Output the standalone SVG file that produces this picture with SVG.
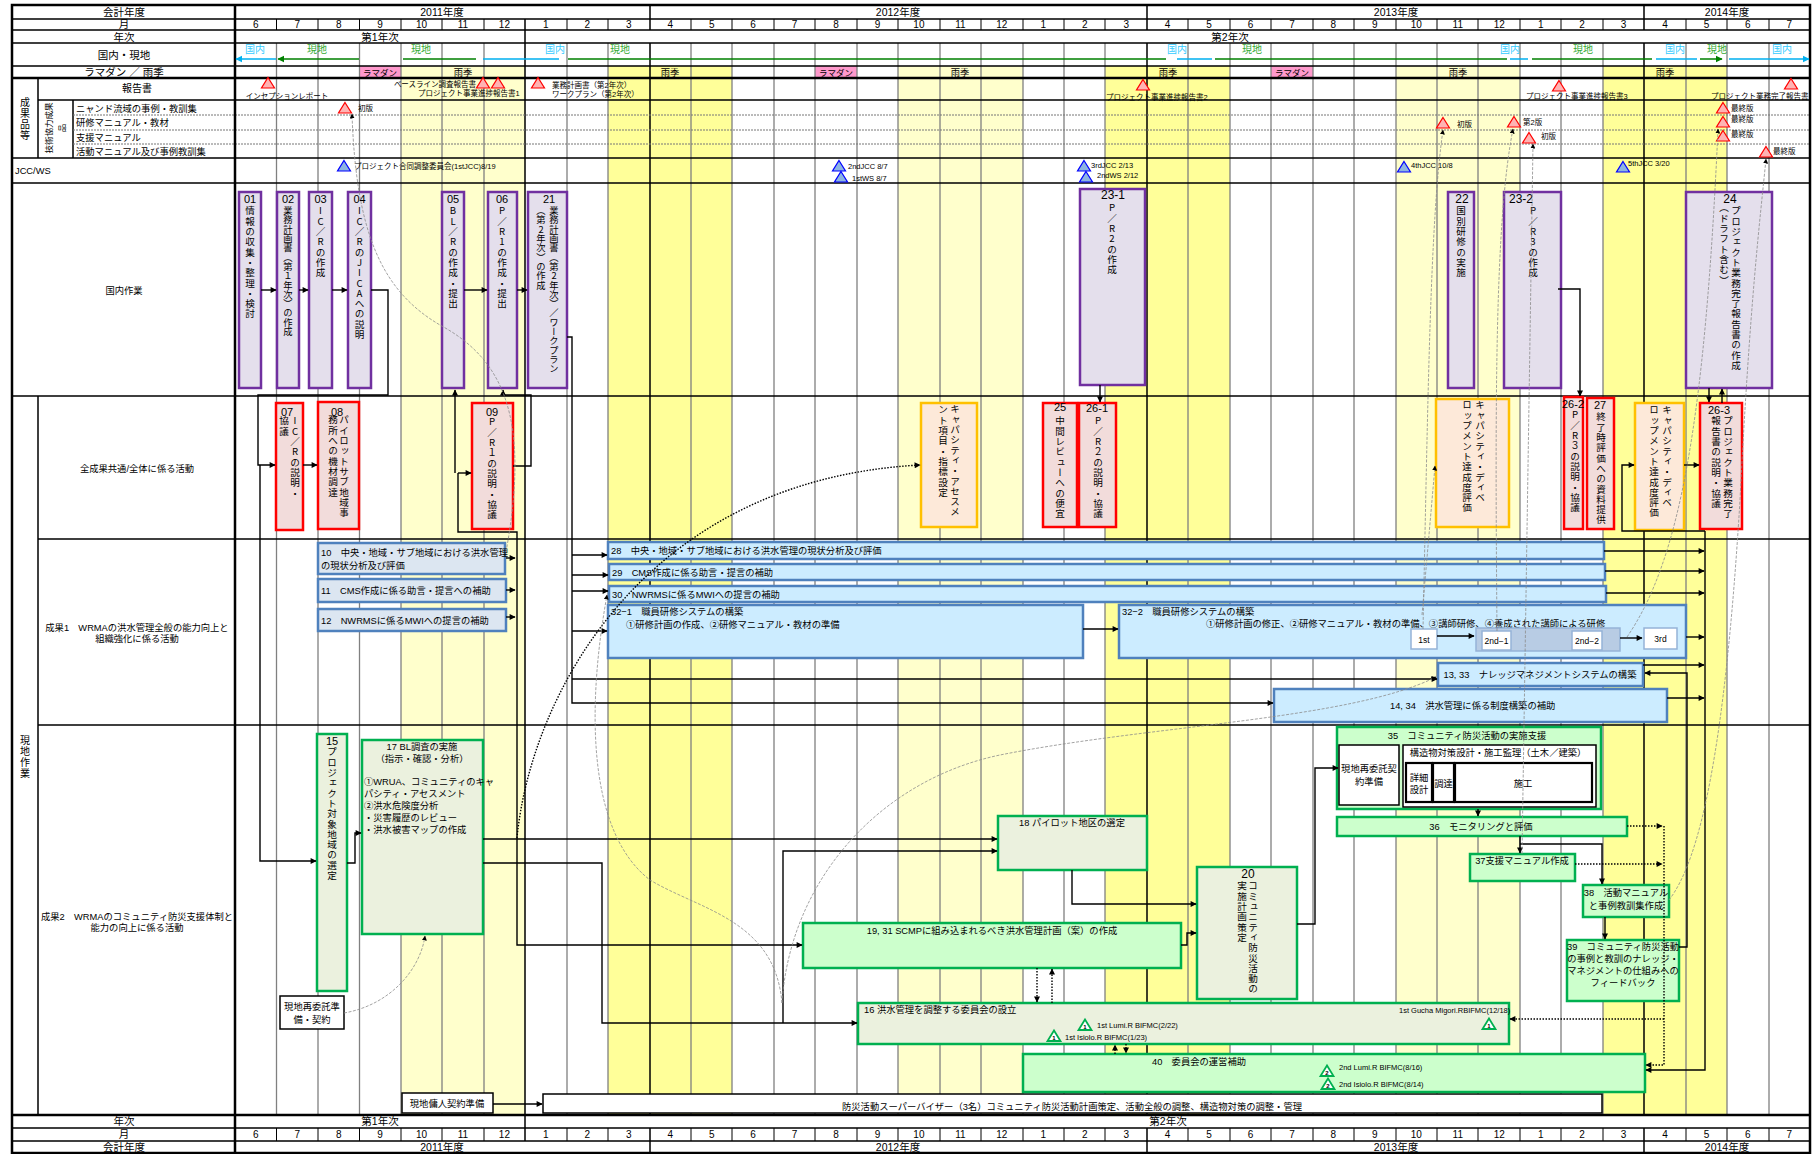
<svg xmlns="http://www.w3.org/2000/svg" width="1812" height="1154" viewBox="0 0 1812 1154">
<style>
text{font-family:"Liberation Sans","Noto Sans CJK JP",sans-serif;fill:#000;}
.h{font-size:10.5px;text-anchor:middle;}
.mo text{font-size:10px;text-anchor:middle;}
.lb{font-size:9.3px;}
.lc{font-size:9.3px;text-anchor:middle;}
.sm{font-size:7.5px;}
.tn{font-size:6px;text-anchor:middle;font-weight:bold;}
.num{font-size:11px;text-anchor:middle;}
.v{font-family:"Noto Sans CJK JP","Liberation Sans",sans-serif;font-size:9.6px;writing-mode:vertical-rl;text-orientation:upright;letter-spacing:0.7px;}
.vt{font-size:9.3px;letter-spacing:0px;}
.pur{fill:#E4DFEC;stroke:#7030A0;stroke-width:2.5;}
.red{fill:#F2DCDB;stroke:#FF0000;stroke-width:2.5;}
.org{fill:#FDE9D9;stroke:#FFC000;stroke-width:2.5;}
.bl1{fill:#DCE6F1;stroke:#4F81BD;stroke-width:2.5;}
.bl2{fill:#CCECFF;stroke:#4F81BD;stroke-width:2.5;}
.gr1{fill:#EBF1DE;stroke:#00B050;stroke-width:2.5;}
.gr2{fill:#CCFFCC;stroke:#00B050;stroke-width:2.5;}
.wb{fill:#fff;stroke:#000;stroke-width:1.5;}
.wb2{fill:#fff;stroke:#000;stroke-width:2.2;}
.sb{fill:#fff;stroke:#95B3D7;stroke-width:1.5;}
.c{fill:none;stroke:#000;stroke-width:1.4;}
.cd{fill:none;stroke:#000;stroke-width:1.4;stroke-dasharray:1.5 1.5;}
.cg{fill:none;stroke:#8C8C8C;stroke-width:0.8;stroke-dasharray:3 1.5;}
.gl{fill:none;stroke:#808080;stroke-width:1.3;}
.bk{fill:none;stroke:#000;stroke-width:1.5;}
.trr{fill:#FFB3B3;stroke:#FF0000;stroke-width:1.2;}
.trb{fill:#8DB4E2;stroke:#0000FF;stroke-width:1.2;}
.trg{fill:#fff;stroke:#00B050;stroke-width:1.8;}
.kn{fill:#33CCFF;font-size:10px;text-anchor:middle;}
.gn{fill:#33AA33;font-size:10px;text-anchor:middle;}
</style>
<defs>
<marker id="ak" viewBox="0 0 10 10" refX="9" refY="5" markerUnits="userSpaceOnUse" markerWidth="7" markerHeight="6" orient="auto-start-reverse"><path d="M0,0L10,5L0,10z" fill="#000"/></marker>
<marker id="as" viewBox="0 0 10 10" refX="9" refY="5" markerUnits="userSpaceOnUse" markerWidth="5" markerHeight="5" orient="auto-start-reverse"><path d="M0,0L10,5L0,10z" fill="#000"/></marker>
<marker id="ac" viewBox="0 0 10 10" refX="9" refY="5" markerUnits="userSpaceOnUse" markerWidth="7" markerHeight="8" orient="auto-start-reverse"><path d="M0,0L10,5L0,10z" fill="#00B0F0"/></marker>
<marker id="ag" viewBox="0 0 10 10" refX="9" refY="5" markerUnits="userSpaceOnUse" markerWidth="7" markerHeight="8" orient="auto-start-reverse"><path d="M0,0L10,5L0,10z" fill="#008000"/></marker>
<path id="tri" d="M0,-5.5L6.5,5L-6.5,5Z"/>
<g id="months" class="mo">
<text x="255.7">6</text><text x="297.2">7</text><text x="338.7">8</text><text x="380.1">9</text><text x="421.5">10</text><text x="463">11</text><text x="504.4">12</text>
<text x="545.9">1</text><text x="587.3">2</text><text x="628.8">3</text><text x="670.2">4</text><text x="711.7">5</text><text x="753.1">6</text><text x="794.6">7</text><text x="836">8</text><text x="877.5">9</text><text x="918.9">10</text><text x="960.4">11</text><text x="1001.8">12</text>
<text x="1043.3">1</text><text x="1084.7">2</text><text x="1126.2">3</text><text x="1167.6">4</text><text x="1209.1">5</text><text x="1250.5">6</text><text x="1292">7</text><text x="1333.4">8</text><text x="1374.9">9</text><text x="1416.3">10</text><text x="1457.8">11</text><text x="1499.2">12</text>
<text x="1540.7">1</text><text x="1582.1">2</text><text x="1623.6">3</text><text x="1665">4</text><text x="1706.5">5</text><text x="1747.9">6</text><text x="1789.4">7</text>
</g>
</defs>

<g id="background">
<rect x="0" y="0" width="1812" height="1154" fill="#fff"/>
<rect x="401" y="66" width="124" height="1049" fill="#FFFFCC"/>
<rect x="608" y="66" width="124" height="1049" fill="#FFFF99"/>
<rect x="898" y="66" width="125" height="1049" fill="#FFFFCC"/>
<rect x="1105" y="66" width="125" height="1049" fill="#FFFF99"/>
<rect x="1396" y="66" width="124" height="1049" fill="#FFFFCC"/>
<rect x="1603" y="66" width="124" height="1049" fill="#FFFF99"/>
<rect x="359.5" y="66" width="41.5" height="12" fill="#FF99CC"/>
<rect x="815" y="66" width="42" height="12" fill="#FF99CC"/>
<rect x="1271" y="66" width="42" height="12" fill="#FF99CC"/>
</g>

<g id="grid">
<path class="gl" d="M276.5,43V1115M318,43V1115M359.5,43V1115M401,43V1115M442,43V1115M484,43V1115M567,43V1115M608,43V1115M691,43V1115M732,43V1115M774,43V1115M815,43V1115M857,43V1115M898,43V1115M940,43V1115M981,43V1115M1023,43V1115M1064,43V1115M1105,43V1115M1188,43V1115M1230,43V1115M1271,43V1115M1313,43V1115M1354,43V1115M1396,43V1115M1437,43V1115M1478,43V1115M1520,43V1115M1561,43V1115M1603,43V1115M1686,43V1115M1727,43V1115M1769,43V1115"/>
<path fill="none" stroke="#000" stroke-width="1" d="M276.5,19V30M318,19V30M359.5,19V30M401,19V30M442,19V30M484,19V30M567,19V30M608,19V30M691,19V30M732,19V30M774,19V30M815,19V30M857,19V30M898,19V30M940,19V30M981,19V30M1023,19V30M1064,19V30M1105,19V30M1188,19V30M1230,19V30M1271,19V30M1313,19V30M1354,19V30M1396,19V30M1437,19V30M1478,19V30M1520,19V30M1561,19V30M1603,19V30M1686,19V30M1727,19V30M1769,19V30 M276.5,1128V1141M318,1128V1141M359.5,1128V1141M401,1128V1141M442,1128V1141M484,1128V1141M567,1128V1141M608,1128V1141M691,1128V1141M732,1128V1141M774,1128V1141M815,1128V1141M857,1128V1141M898,1128V1141M940,1128V1141M981,1128V1141M1023,1128V1141M1064,1128V1141M1105,1128V1141M1188,1128V1141M1230,1128V1141M1271,1128V1141M1313,1128V1141M1354,1128V1141M1396,1128V1141M1437,1128V1141M1478,1128V1141M1520,1128V1141M1561,1128V1141M1603,1128V1141M1686,1128V1141M1727,1128V1141M1769,1128V1141"/>
<path class="bk" d="M525,19V1141M650,5V30M650,43V1115M650,1128V1153M1147,5V30M1147,43V1115M1147,1128V1153M1644,5V30M1644,43V1115M1644,1128V1153"/>
<path class="bk" d="M12,19H1810M12,30H1810M12,43H1810M12,66H1810M38,100H1810M12,158H1810M12,183H1810M12,396H1810M38,539H1810M38,725H1810M12,1128H1810M12,1141H1810M38,78V158M73,100V158M38,396V1115"/>
<path fill="none" stroke="#777" stroke-width="1" stroke-dasharray="2 1" d="M73,115H1810M73,130H1810M73,144H1810"/>
<path fill="none" stroke="#000" stroke-width="2.5" d="M12,78H1810M12,1115H1810M235,5V1153"/>
<rect x="12" y="5" width="1798" height="1148" fill="none" stroke="#000" stroke-width="2.5"/>
</g>

<g id="header">
<text class="h" x="124" y="16">会計年度</text>
<text class="h" x="442" y="16">2011年度</text>
<text class="h" x="898" y="16">2012年度</text>
<text class="h" x="1396" y="16">2013年度</text>
<text class="h" x="1727" y="16">2014年度</text>
<text class="h" x="124" y="28">月</text>
<use href="#months" y="28"/>
<text class="h" x="124" y="40.5">年次</text>
<text class="h" x="380" y="40.5">第1年次</text>
<text class="h" x="1230" y="40.5">第2年次</text>
<text class="h" x="124" y="59">国内・現地</text>
<text class="h" x="124" y="76">ラマダン ／ 雨季</text>
<text class="kn" x="255" y="53">国内</text>
<text class="gn" x="317" y="53">現地</text>
<text class="gn" x="421" y="53">現地</text>
<text class="kn" x="555" y="53">国内</text>
<text class="gn" x="620" y="53">現地</text>
<text class="kn" x="1177" y="53">国内</text>
<text class="gn" x="1252" y="53">現地</text>
<text class="kn" x="1510" y="53">国内</text>
<text class="gn" x="1583" y="53">現地</text>
<text class="kn" x="1675" y="53">国内</text>
<text class="gn" x="1717" y="53">現地</text>
<text class="kn" x="1782" y="53">国内</text>
<g fill="none" stroke-width="1.5">
<path stroke="#00B0F0" marker-start="url(#ac)" marker-end="url(#ac)" d="M236,59H276M483,59H559M1177,59H1212M1510,59H1528M1656,59H1697M1729,59H1809"/>
<path stroke="#008000" marker-start="url(#ag)" marker-end="url(#ag)" d="M278,59H359M403,59H476M568,59H1166M1215,59H1507M1532,59H1652M1700,59H1722"/>
</g>
<text x="380" y="75.5" text-anchor="middle" style="font-size:8.5px">ラマダン</text>
<text x="836" y="75.5" text-anchor="middle" style="font-size:8.5px">ラマダン</text>
<text x="1292" y="75.5" text-anchor="middle" style="font-size:8.5px">ラマダン</text>
<text class="lc" x="463" y="76">雨季</text>
<text class="lc" x="670" y="76">雨季</text>
<text class="lc" x="960" y="76">雨季</text>
<text class="lc" x="1168" y="76">雨季</text>
<text class="lc" x="1458" y="76">雨季</text>
<text class="lc" x="1665" y="76">雨季</text>
<text class="lc" style="font-size:10px"><tspan x="25" y="106">成</tspan><tspan x="25" y="117">果</tspan><tspan x="25" y="128">品</tspan><tspan x="25" y="139">等</tspan></text>
<text transform="translate(49,128) rotate(-90)" text-anchor="middle" style="font-size:8.5px" y="3">技術協力成果</text>
<text transform="translate(62,128) rotate(-90)" text-anchor="middle" style="font-size:8.5px" y="3">品</text>
<text class="lc" x="137" y="92" style="font-size:10px">報告書</text>
<text class="lb" x="76" y="112">ニャンド流域の事例・教訓集</text>
<text class="lb" x="76" y="126">研修マニュアル・教材</text>
<text class="lb" x="76" y="141">支援マニュアル</text>
<text class="lb" x="76" y="155">活動マニュアル及び事例教訓集</text>
<text class="lb" x="15" y="174">JCC/WS</text>
<text class="lc" x="124" y="294">国内作業</text>
<text class="lc" x="137" y="472">全成果共通/全体に係る活動</text>
<text class="lc" x="137" y="631">成果1　WRMAの洪水管理全般の能力向上と</text>
<text class="lc" x="137" y="642">組織強化に係る活動</text>
<text class="lc" x="137" y="920">成果2　WRMAのコミュニティ防災支援体制と</text>
<text class="lc" x="137" y="931">能力の向上に係る活動</text>
<text class="lc" style="font-size:10px"><tspan x="25" y="744">現</tspan><tspan x="25" y="755">地</tspan><tspan x="25" y="766">作</tspan><tspan x="25" y="777">業</tspan></text>
<text class="h" x="124" y="1125">年次</text>
<text class="h" x="380" y="1125">第1年次</text>
<text class="h" x="1168" y="1125">第2年次</text>
<text class="h" x="124" y="1138">月</text>
<use href="#months" y="1138"/>
<text class="h" x="124" y="1151">会計年度</text>
<text class="h" x="442" y="1151">2011年度</text>
<text class="h" x="898" y="1151">2012年度</text>
<text class="h" x="1396" y="1151">2013年度</text>
<text class="h" x="1727" y="1151">2014年度</text>
</g>

<g id="milestones">
<use href="#tri" class="trr" x="268" y="83"/>
<text class="sm" x="287" y="99" text-anchor="middle">インセプションレポート</text>
<use href="#tri" class="trr" x="483" y="83"/>
<use href="#tri" class="trr" x="498" y="83"/>
<text class="sm" x="476" y="87" text-anchor="end">ベースライン調査報告書</text>
<text class="sm" x="418" y="96">プロジェクト事業進捗報告書1</text>
<use href="#tri" class="trr" x="538" y="83"/>
<text class="sm" x="552" y="88">業務計画書（第2年次）</text>
<text class="sm" x="552" y="97">ワークプラン（第2年次）</text>
<use href="#tri" class="trr" x="1143" y="85"/>
<text class="sm" x="1106" y="100">プロジェクト事業進捗報告書2</text>
<use href="#tri" class="trr" x="1559" y="86"/>
<text class="sm" x="1526" y="99">プロジェクト事業進捗報告書3</text>
<use href="#tri" class="trr" x="1791" y="84"/>
<text class="sm" x="1711" y="99">プロジェクト業務完了報告書</text>
<use href="#tri" class="trr" x="345" y="108"/>
<text class="sm" x="358" y="111">初版</text>
<use href="#tri" class="trr" x="1723" y="108"/>
<text class="sm" x="1731" y="111">最終版</text>
<use href="#tri" class="trr" x="1443" y="123"/>
<text class="sm" x="1457" y="127">初版</text>
<use href="#tri" class="trr" x="1514" y="122"/>
<text class="sm" x="1523" y="125">第2版</text>
<use href="#tri" class="trr" x="1723" y="122"/>
<text class="sm" x="1731" y="122">最終版</text>
<use href="#tri" class="trr" x="1529" y="138"/>
<text class="sm" x="1541" y="139">初版</text>
<use href="#tri" class="trr" x="1723" y="136"/>
<text class="sm" x="1731" y="137">最終版</text>
<use href="#tri" class="trr" x="1766" y="152"/>
<text class="sm" x="1773" y="154">最終版</text>
<use href="#tri" class="trb" x="344" y="166"/>
<text class="sm" x="354" y="169">プロジェクト合同調整委員会(1stJCC)8/19</text>
<use href="#tri" class="trb" x="839" y="166"/>
<text class="sm" x="848" y="169">2ndJCC 8/7</text>
<use href="#tri" class="trb" x="841" y="177"/>
<text class="sm" x="852" y="181">1stWS 8/7</text>
<use href="#tri" class="trb" x="1084" y="166"/>
<text class="sm" x="1091" y="168">3rdJCC 2/13</text>
<use href="#tri" class="trb" x="1086" y="177"/>
<text class="sm" x="1097" y="178">2ndWS 2/12</text>
<use href="#tri" class="trb" x="1404" y="167"/>
<text class="sm" x="1411" y="168">4thJCC 10/8</text>
<use href="#tri" class="trb" x="1623" y="167"/>
<text class="sm" x="1628" y="166">5thJCC 3/20</text>
</g>

<g id="n01"><rect class="pur" x="239" y="192" width="22" height="196"/><text class="num" x="250" y="203">01</text><text class="v" x="250" y="206">情報の収集・整理・検討</text></g>
<g id="n02"><rect class="pur" x="277" y="192" width="22" height="196"/><text class="num" x="288" y="203">02</text><text class="v vt" x="288" y="206">業務計画書（第１年次）の作成</text></g>
<g id="n03"><rect class="pur" x="309" y="192" width="23" height="196"/><text class="num" x="320.5" y="203">03</text><text class="v" x="320.5" y="206">IC／Rの作成</text></g>
<g id="n04"><rect class="pur" x="348" y="192" width="23" height="196"/><text class="num" x="359.5" y="203">04</text><text class="v" x="359.5" y="206">IC／RのJICAへの説明</text></g>
<g id="n05"><rect class="pur" x="442" y="192" width="22" height="196"/><text class="num" x="453" y="203">05</text><text class="v" x="453" y="206">BL／Rの作成・提出</text></g>
<g id="n06"><rect class="pur" x="488" y="192" width="29" height="196"/><text class="num" x="502" y="203">06</text><text class="v" x="502" y="206">P／R1の作成・提出</text></g>
<g id="n21"><rect class="pur" x="528" y="192" width="39" height="196"/><text class="num" x="549" y="203">21</text><text class="v vt" x="554" y="206">業務計画書（第2年次）／ワークプラン</text><text class="v vt" x="541" y="206">（第2年次）の作成</text></g>
<g id="n23-1"><rect class="pur" x="1080" y="189" width="65" height="196"/><text class="num" x="1113" y="199" style="font-size:12px">23-1</text><text class="v" x="1112" y="203">P／R2の作成</text></g>
<g id="n22"><rect class="pur" x="1448" y="192" width="26" height="196"/><text class="num" x="1462" y="203" style="font-size:12px">22</text><text class="v" x="1461" y="206">国別研修の実施</text></g>
<g id="n23-2"><rect class="pur" x="1504" y="192" width="57" height="196"/><text class="num" x="1521" y="203" style="font-size:12px">23-2</text><text class="v" x="1533" y="206">P／R3の作成</text></g>
<g id="n24"><rect class="pur" x="1686" y="192" width="86" height="196"/><text class="num" x="1730" y="203" style="font-size:12px">24</text><text class="v" x="1736" y="206">プロジェクト業務完了報告書の作成</text><text class="v" x="1724" y="203">（ドラフト含む）</text></g>

<g id="n07"><rect class="red" x="276" y="403" width="27" height="127"/><text class="num" x="287" y="416">07</text><text class="v" x="295" y="416">IC／Rの説明・</text><text class="v" x="284" y="416">協議</text></g>
<g id="n08"><rect class="red" x="318" y="402" width="41" height="127"/><text class="num" x="337" y="416">08</text><text class="v" x="344" y="415">パイロットサブ地域事</text><text class="v" x="333" y="415">務所への機材調達</text></g>
<g id="n09"><rect class="red" x="472" y="403" width="41" height="126"/><text class="num" x="492" y="416">09</text><text class="v" x="492" y="417">P／R１の説明・協議</text></g>
<g id="n-ca"><rect class="org" x="921" y="403" width="56" height="124"/><text class="v" x="955" y="404">キャパシティ・アセスメ</text><text class="v" x="943" y="405">ント項目・指標設定</text></g>
<g id="n25"><rect class="red" x="1043" y="403" width="34" height="124"/><text class="num" x="1060" y="411">25</text><text class="v" x="1060" y="416">中間レビューへの便宜</text></g>
<g id="n26-1"><rect class="red" x="1079" y="403" width="37" height="124"/><text class="num" x="1097" y="412">26-1</text><text class="v" x="1098" y="416">P／R２の説明・協議</text></g>
<g id="n-cd1"><rect class="org" x="1436" y="399" width="73" height="128"/><text class="v" x="1480" y="400">キャパシティ・ディベ</text><text class="v" x="1467" y="400">ロップメント達成度評価</text></g>
<g id="n26-2"><rect class="red" x="1564" y="397" width="19" height="132"/><text class="num" x="1573" y="408">26-2</text><text class="v" x="1575" y="410">P／R３の説明・協議</text></g>
<g id="n27"><rect class="red" x="1587" y="398" width="27" height="131"/><text class="num" x="1600" y="409">27</text><text class="v" x="1601" y="412">終了時評価への資料提供</text></g>
<g id="n-cd2"><rect class="org" x="1635" y="403" width="49" height="127"/><text class="v" x="1667" y="405">キャパシティ・ディベ</text><text class="v" x="1654" y="405">ロップメント達成度評価</text></g>
<g id="n26-3"><rect class="red" x="1700" y="403" width="42" height="126"/><text class="num" x="1719" y="414">26-3</text><text class="v" x="1728" y="416">プロジェクト業務完了</text><text class="v" x="1716" y="416">報告書の説明・協議</text></g>

<g id="n10"><rect class="bl1" x="318" y="543" width="187" height="31"/><text class="lb" x="321" y="556">10　中央・地域・サブ地域における洪水管理</text><text class="lb" x="321" y="569">の現状分析及び評価</text></g>
<g id="n11"><rect class="bl1" x="318" y="579" width="188" height="23"/><text class="lb" x="321" y="594">11　CMS作成に係る助言・提言への補助</text></g>
<g id="n12"><rect class="bl1" x="318" y="609" width="188" height="22"/><text class="lb" x="321" y="624">12　NWRMSに係るMWIへの提言の補助</text></g>
<g id="n28"><rect class="bl2" x="608" y="542" width="996" height="17"/><text class="lb" x="611" y="554">28　中央・地域・サブ地域における洪水管理の現状分析及び評価</text></g>
<g id="n29"><rect class="bl2" x="609" y="564" width="996" height="16"/><text class="lb" x="612" y="576">29　CMS作成に係る助言・提言の補助</text></g>
<g id="n30"><rect class="bl2" x="609" y="586" width="997" height="16"/><text class="lb" x="612" y="597.5">30　NWRMSに係るMWIへの提言の補助</text></g>
<g id="n32-1"><rect class="bl2" x="608" y="605" width="475" height="53"/><text class="lb" x="611" y="615">32−1　職員研修システムの構築</text><text class="lb" x="626" y="628">①研修計画の作成、②研修マニュアル・教材の準備</text></g>
<g id="n32-2"><rect class="bl2" x="1119" y="605" width="567" height="53"/><text class="lb" x="1122" y="615">32−2　職員研修システムの構築</text><text class="lb" x="1206" y="627">①研修計画の修正、②研修マニュアル・教材の準備、③講師研修、④養成された講師による研修</text>
<rect class="sb" x="1411" y="629" width="26" height="20"/><text class="lc" x="1424" y="643" style="font-size:8.5px">1st</text>
<rect x="1476" y="628" width="144" height="23" fill="#B8CCE4" stroke="#95B3D7" stroke-width="1.5"/>
<rect class="sb" x="1482" y="631" width="29" height="19"/><text class="lc" x="1496.5" y="644" style="font-size:8.5px">2nd−1</text>
<rect class="sb" x="1572" y="631" width="30" height="19"/><text class="lc" x="1587" y="644" style="font-size:8.5px">2nd−2</text>
<rect class="sb" x="1644" y="628" width="33" height="21"/><text class="lc" x="1660.5" y="642" style="font-size:8.5px">3rd</text></g>
<g id="n13-33"><rect class="bl2" x="1438" y="663" width="205" height="23"/><text class="lc" x="1540" y="678">13, 33　ナレッジマネジメントシステムの構築</text></g>
<g id="n14-34"><rect class="bl2" x="1274" y="689" width="393" height="33"/><text class="lb" x="1390" y="709">14, 34　洪水管理に係る制度構築の補助</text></g>

<g id="n15"><rect class="gr1" x="317" y="734" width="30" height="257"/><text class="num" x="332" y="745">15</text><text class="v" x="332" y="747">プロジェクト対象地域の選定</text></g>
<g id="n17"><rect class="gr1" x="362" y="740" width="121" height="194"/><text class="lc" x="422" y="750">17  BL調査の実施</text><text class="lc" x="422" y="762">（指示・確認・分析）</text><text class="lb" x="364" y="785">①WRUA、コミュニティのキャ</text><text class="lb" x="364" y="797">パシティ・アセスメント</text><text class="lb" x="364" y="809">②洪水危険度分析</text><text class="lb" x="364" y="821">・災害履歴のレビュー</text><text class="lb" x="364" y="833">・洪水被害マップの作成</text></g>
<g id="n-subcontract"><rect class="wb" x="280" y="996" width="64" height="33"/><text class="lc" x="312" y="1010">現地再委託準</text><text class="lc" x="312" y="1023">備・契約</text></g>
<g id="n-staff"><rect class="wb" x="402" y="1093" width="91" height="20"/><text class="lc" x="447" y="1107">現地傭人契約準備</text></g>
<g id="n-supervisor"><rect class="wb" x="543" y="1094" width="1059" height="19"/><text class="lc" x="1072" y="1110">防災活動スーパーバイザー（3名）コミュニティ防災活動計画策定、活動全般の調整、構造物対策の調整・管理</text></g>
<g id="n18"><rect class="gr1" x="998" y="816" width="149" height="54"/><text class="lc" x="1072" y="826">18 パイロット地区の選定</text></g>
<g id="n19-31"><rect class="gr2" x="803" y="923" width="378" height="45"/><text class="lc" x="992" y="934">19, 31 SCMPに組み込まれるべき洪水管理計画（案）の作成</text></g>
<g id="n16"><rect class="gr1" x="858" y="1003" width="651" height="41"/><text class="lb" x="864" y="1013">16 洪水管理を調整する委員会の設立</text>
<use href="#tri" class="trg" x="1085" y="1025"/><text class="tn" x="1085" y="1029">1</text><text class="sm" x="1097" y="1028">1st Lumi.R BIFMC(2/22)</text>
<use href="#tri" class="trg" x="1054" y="1036"/><text class="tn" x="1054" y="1040">1</text><text class="sm" x="1065" y="1040">1st Isiolo.R BIFMC(1/23)</text>
<text class="sm" x="1399" y="1013">1st Gucha Migori.RBIFMC(12/18)</text><use href="#tri" class="trg" x="1489" y="1024"/><text class="tn" x="1489" y="1028">1</text></g>
<g id="n20"><rect class="gr1" x="1197" y="867" width="100" height="132"/><text class="num" x="1248" y="877.5" style="font-size:12px">20</text><text class="v" x="1253" y="881">コミュニティ防災活動の</text><text class="v" x="1242" y="881">実施計画策定</text></g>
<g id="n40"><rect class="gr2" x="1023" y="1054" width="622" height="38"/><text class="lc" x="1199" y="1065">40　委員会の運営補助</text>
<use href="#tri" class="trg" x="1327" y="1071"/><text class="tn" x="1327" y="1075">2</text><text class="sm" x="1339" y="1070">2nd Lumi.R BIFMC(8/16)</text>
<use href="#tri" class="trg" x="1328" y="1084"/><text class="tn" x="1328" y="1088">2</text><text class="sm" x="1339" y="1087">2nd Isiolo.R BIFMC(8/14)</text></g>
<g id="n35"><rect class="gr2" x="1337" y="727" width="264" height="82"/><text class="lc" x="1467" y="739">35　コミュニティ防災活動の実施支援</text>
<rect class="wb" x="1339" y="745" width="60" height="60"/><text class="lc" x="1369" y="772">現地再委託契</text><text class="lc" x="1369" y="785">約準備</text>
<rect class="wb" x="1403" y="745" width="193" height="62"/><text class="lc" x="1498" y="756">構造物対策設計・施工監理（土木／建築）</text>
<rect class="wb2" x="1406" y="763" width="26" height="39"/><text class="lc" x="1419" y="781">詳細</text><text class="lc" x="1419" y="793">設計</text>
<rect class="wb2" x="1433" y="763" width="21" height="39"/><text class="lc" x="1443.5" y="787">調達</text>
<rect class="wb2" x="1455" y="763" width="137" height="39"/><text class="lc" x="1523" y="787">施工</text></g>
<g id="n36"><rect class="gr2" x="1337" y="817" width="290" height="19"/><text class="lc" x="1481" y="830">36　モニタリングと評価</text></g>
<g id="n37"><rect class="gr2" x="1470" y="854" width="105" height="27"/><text class="lc" x="1522" y="864">37支援マニュアル作成</text></g>
<g id="n38"><rect class="gr2" x="1583" y="885" width="86" height="32"/><text class="lc" x="1626" y="896">38　活動マニュアル</text><text class="lc" x="1626" y="909">と事例教訓集作成</text></g>
<g id="n39"><rect class="gr2" x="1567" y="940" width="112" height="61"/><text class="lc" x="1623" y="950">39　コミュニティ防災活動</text><text class="lc" x="1623" y="962">の事例と教訓のナレッジ・</text><text class="lc" x="1623" y="974">マネジメントの仕組みへの</text><text class="lc" x="1623" y="986">フィードバック</text></g>

<g id="connectors">
<g class="c" marker-end="url(#ak)">
<path d="M261,290H276"/><path d="M299,290H308"/><path d="M332,290H347"/>
<path d="M464,290H487"/><path d="M517,290H527"/>
<path d="M371,290H388V395H258V465H275"/>
<path d="M260,465V861H316"/>
<path d="M303,465H317"/>
<path d="M458,473V532H517V945H802"/>
<path d="M458,473H471"/>
<path d="M455,473V390"/>
<path d="M513,466H531V395H503V390"/>
<path d="M506,558H515"/><path d="M506,590H515"/><path d="M506,617H515"/>
<path d="M567,337H572V703H1273"/>
<path d="M572,555H607"/><path d="M572,575H608"/><path d="M572,591H608"/><path d="M572,631H607"/>
<path d="M572,679H1437"/>
<path d="M483,839H997"/>
<path d="M483,863H602V1023H857"/>
<path d="M783,1023V851H997"/>
<path d="M1072,870V904H1196"/>
<path d="M1181,945H1187V933H1196"/>
<path d="M1297,924H1315V768H1338"/>
<path d="M1100,385V402"/>
<path d="M1558,289H1580V396"/>
<path d="M1709,388V402"/><path d="M1722,403V389"/>
<path d="M1684,465H1699"/>
<path d="M1705,531H1622V465H1634"/>
<path d="M1705,531V1070H1646"/>
<path d="M1604,551H1704"/><path d="M1605,571H1704"/><path d="M1606,593H1704"/><path d="M1686,637H1704"/><path d="M1643,665H1704"/><path d="M1667,698H1704"/>
<path d="M1679,947H1687V673H1645"/>
<path d="M1083,629H1118"/>
<path d="M1437,636H1474"/><path d="M1620,638H1642"/>
<path d="M1478,809V816"/>
<path d="M1520,836V853"/>
<path d="M1520,844H1602V884"/>
<path d="M1605,917V939"/>
<path d="M347,863H355V833H361"/>
<path d="M493,1104H542"/>
</g>
<g class="cd" marker-end="url(#ak)">
<path d="M1627,826H1662"/>
<path d="M1575,864H1662"/>
<path d="M1664,826V1065H1646"/>
<path d="M1664,1019H1510"/>
<path d="M1037,968V1002"/>
<path d="M1052,1003V969"/>
<path d="M1115,1054V1045"/>
<path d="M1126,1044V1053"/>
<path d="M517,838C530,700 640,480 920,465"/>
</g>
<g class="cg" marker-end="url(#as)">
<path d="M506,552C530,420 505,360 440,325C380,290 356,230 352,114"/>
<path d="M782,1003C775,920 700,910 650,880C585,830 588,700 607,595"/>
<path d="M782,1003C790,880 880,780 1000,755C1150,725 1350,720 1436,677"/>
<path d="M1423,629C1428,400 1430,220 1443,130"/>
<path d="M1422,615L1435,466"/>
<path d="M1497,631C1495,400 1495,220 1513,129"/>
<path d="M1522,854L1533,144"/>
<path d="M1627,637C1680,560 1705,420 1718,129"/>
<path d="M1669,900C1700,860 1725,750 1740,500C1750,300 1760,220 1766,159"/>
<path d="M344,1013C390,1005 420,970 425,936"/>
</g>
</g>
</svg>
